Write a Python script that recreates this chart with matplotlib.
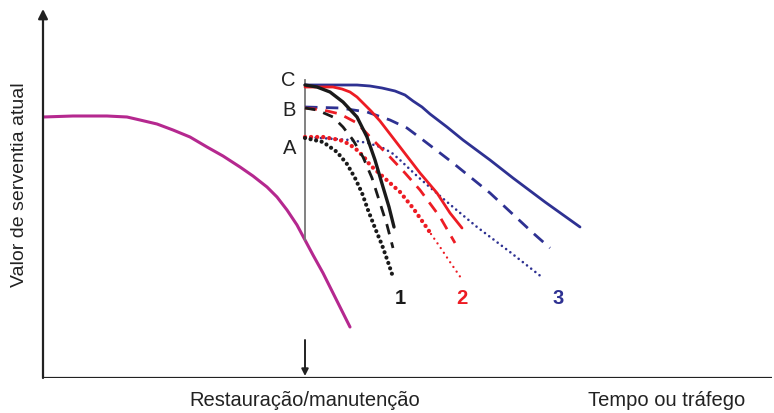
import numpy as np
import matplotlib
matplotlib.use('Agg')
import matplotlib.pyplot as plt

plt.rcParams['font.family'] = ['Liberation Sans', 'DejaVu Sans']

# curves, x = time/traffic, y = serviceability (arbitrary units)
deg_x = [0, 30, 64, 84, 97, 114, 130, 147, 164, 180, 197, 210, 224, 234,
         244, 254, 262, 270, 280, 290, 300, 307]
deg_y = [261, 262, 262, 261, 258, 254, 248, 241, 231, 222, 211, 202, 191, 181,
         168, 153, 138, 123, 105, 85, 65, 51]

restore_x = 262
restore_top = 298
restore_bot = 138

blk_solid_x = [262, 274, 287, 300, 314, 324, 332, 340, 346, 351]
blk_solid_y = [293, 291, 286, 276, 261, 241, 218, 191, 171, 151]
blk_dash_x = [262, 274, 290, 300, 310, 320, 329, 337, 344, 350]
blk_dash_y = [270, 268, 261, 251, 238, 221, 200, 175, 153, 130]
blk_dot_x = [262, 280, 294, 304, 312, 319, 325, 332, 339, 345, 350]
blk_dot_y = [240, 236, 226, 214, 200, 185, 168, 150, 133, 116, 101]

red_solid_x = [262, 290, 299, 307, 314, 320, 328, 337, 357, 377, 394, 407, 419]
red_solid_y = [291, 291, 289, 286, 281, 275, 267, 257, 231, 205, 185, 165, 150]
red_dash_x = [262, 280, 297, 314, 330, 347, 362, 377, 397, 412]
red_dash_y = [270, 268, 264, 255, 238, 221, 205, 188, 161, 135]
red_dot_x = [262, 280, 297, 306, 314, 321, 327, 337, 357, 370, 384, 388]
red_dot_y = [241, 241, 238, 234, 228, 221, 213, 204, 186, 170, 150, 144]
red_dot2_x = [388, 397, 407, 418]
red_dot2_y = [144, 131, 116, 100]

blu_solid_x = [262, 287, 314, 327, 339, 352, 362, 370, 379, 387, 404, 420,
               447, 470, 502, 537]
blu_solid_y = [293, 293, 293, 292, 290, 287, 283, 277, 271, 264, 251, 238,
               218, 200, 176, 151]
blu_dash_x = [262, 297, 324, 347, 364, 380, 397, 410, 447, 490, 507]
blu_dash_y = [271, 270, 266, 258, 250, 238, 225, 215, 185, 145, 130]
blu_dot_x = [262, 307, 325, 340, 349, 357, 374, 390, 410, 434, 467, 500]
blu_dot_y = [241, 238, 235, 230, 225, 218, 202, 188, 171, 151, 126, 100]

BLACK = '#1a1a1a'
RED = '#ed1c24'
BLUE = '#2e3192'
MAGENTA = '#b5288f'

fig = plt.figure(figsize=(7.74, 4.13), dpi=100)
ax = fig.add_axes([43/774, 35/413, 731/774, 378/413])
ax.set_xlim(0, 731)
ax.set_ylim(0, 378)
ax.axis('off')

# axes
ax.plot([0, 729], [0, 0], color='#222222', lw=1.6, solid_capstyle='butt')
ax.annotate('', xy=(0, 369), xytext=(0, 0),
            arrowprops=dict(arrowstyle='-|>', color='#222222', lw=1.6,
                            mutation_scale=14, shrinkA=0, shrinkB=0))
ax.annotate('', xy=(restore_x, 2), xytext=(restore_x, 38),
            arrowprops=dict(arrowstyle='-|>', color='#222222', lw=1.4,
                            mutation_scale=10, shrinkA=0, shrinkB=0))

rnd = dict(dash_capstyle='round', solid_capstyle='round', solid_joinstyle='round')
ax.plot(deg_x, deg_y, color=MAGENTA, lw=2.2, **rnd)
ax.plot([restore_x, restore_x], [restore_bot, restore_top], color='#777777', lw=1.3)

ax.plot(blu_solid_x, blu_solid_y, color=BLUE, lw=2, **rnd)
ax.plot(blu_dash_x, blu_dash_y, color=BLUE, lw=2, ls=(0, (4.5, 3)))
ax.plot(blu_dot_x, blu_dot_y, color=BLUE, lw=1.9, ls=(0, (0.01, 2.0)), **rnd)

ax.plot(red_solid_x, red_solid_y, color=RED, lw=2, **rnd)
ax.plot(red_dash_x, red_dash_y, color=RED, lw=2, ls=(0, (4.3, 3)))
ax.plot(red_dot_x, red_dot_y, color=RED, lw=3.1, ls=(0, (0.01, 1.4)), **rnd)
ax.plot(red_dot2_x, red_dot2_y, color=RED, lw=1.7, ls=(0, (0.01, 2.4)), **rnd)

ax.plot(blk_solid_x, blk_solid_y, color=BLACK, lw=2.4, **rnd)
ax.plot(blk_dash_x, blk_dash_y, color=BLACK, lw=2, ls=(0, (3.8, 3)))
ax.plot(blk_dot_x, blk_dot_y, color=BLACK, lw=3.0, ls=(0, (0.01, 1.35)), **rnd)

for lab, y in zip(['C', 'B', 'A'], [297, 267, 229]):
    ax.text(restore_x - 9, y, lab, fontsize=14.5, color='#222222', ha='right', va='center')

for lab, x, c in zip(['1', '2', '3'], [357, 419, 515], [BLACK, RED, BLUE]):
    ax.text(x, 80, lab, fontsize=14.5, color=c, ha='center', va='center', fontweight='bold')

ax.text(-23, 193, 'Valor de serventia atual', rotation=90, fontsize=14,
        color='#222222', ha='center', va='center', clip_on=False)
ax.text(restore_x, -22, 'Restauração/manutenção', fontsize=14.5, color='#222222',
        ha='center', va='center', clip_on=False)
ax.text(624, -22, 'Tempo ou tráfego', fontsize=14.5, color='#222222',
        ha='center', va='center', clip_on=False)

fig.savefig('out.png', dpi=100)
